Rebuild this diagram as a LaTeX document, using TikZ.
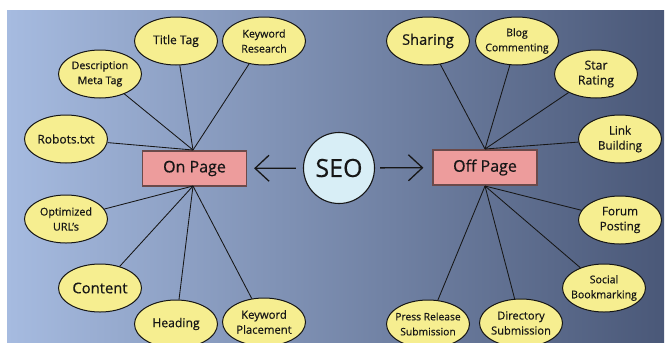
\documentclass[tikz,border=0pt]{standalone}
\usepackage{fontspec}
\setmainfont{Open Sans}[FakeBold=0.5]
\usetikzlibrary{shapes.geometric,arrows.meta}
\definecolor{bgleft}{HTML}{A6BBE0}
\definecolor{bgright}{HTML}{4A5878}
\definecolor{ellfill}{HTML}{F6EE90}
\definecolor{boxfill}{HTML}{ED9C9C}
\definecolor{boxline}{HTML}{6B4A4A}
\definecolor{seofill}{HTML}{D8EEF6}
\definecolor{ink}{HTML}{161616}
\tikzset{
  ell/.style={ellipse, draw=ink, line width=1pt, fill=ellfill, inner sep=-14pt,
    minimum width=83pt, minimum height=48pt, align=center, text=ink},
  pagebox/.style={rectangle, draw=boxline, line width=1.2pt, fill=boxfill, inner sep=0pt,
    minimum width=104pt, minimum height=35pt, text=ink, font=\fontsize{16}{18}\selectfont},
  spoke/.style={draw=ink, line width=0.85pt},
  bigarrow/.style={draw=ink, line width=1.3pt, -{Straight Barb[length=14pt,width=26pt,line width=1.3pt]}},
  fs/.style={font=\fontsize{#1}{15}\selectfont}
}
\begin{document}
\begin{tikzpicture}[x=1pt,y=-1pt]
\useasboundingbox (0,0) rectangle (666,349);
\shade[left color=bgleft, right color=bgright] (7,10) rectangle (664,342);
\begin{scope}
\clip (7,10) rectangle (664,342);
% centre
\node[circle, draw=ink, line width=1.1pt, fill=seofill, minimum size=71pt, inner sep=0pt,
  font=\fontsize{25}{28}\selectfont, text=ink] (seo) at (339,168) {SEO};
\node[pagebox] (onp) at (194.5,168.5) {On Page};
\node[pagebox] (offp) at (485,167.5) {Off Page};
\coordinate (lt) at (193,150);
\coordinate (lb) at (193,186);
\coordinate (rt) at (485,149);
\coordinate (rb) at (485,186);
% left ellipses
\node[ell, fs=12] (title) at (176,41) {Title Tag};
\node[ell, fs=10.7] (kwres) at (264,41) {Keyword\\Research};
\node[ell, fs=10.6] (desc) at (100,74) {Description\\Meta Tag};
\node[ell, fs=12] (robots) at (66,139) {Robots.txt};
\node[ell, fs=10.8] (urls) at (66,219) {Optimized\\URL’s};
\node[ell, fs=14.8] (content) at (100,288) {Content};
\node[ell, fs=12.2] (heading) at (176,324) {Heading};
\node[ell, fs=11.3] (kwpl) at (264,322) {Keyword\\Placement};
% right ellipses
\node[ell, fs=14.6] (sharing) at (428,41) {Sharing};
\node[ell, fs=10.5] (blog) at (517,41) {Blog\\Commenting};
\node[ell, fs=12.3] (star) at (596,74) {Star\\Rating};
\node[ell, fs=11.6] (link) at (620,139) {Link\\Building};
\node[ell, fs=11.8] (forum) at (620,220) {Forum\\Posting};
\node[ell, fs=10.6] (social) at (604,288) {Social\\Bookmarking};
\node[ell, fs=10.3] (press) at (428,324) {Press Release\\Submission};
\node[ell, fs=11.1] (dir) at (521,323) {Directory\\Submission};
% spokes
\foreach \n in {title,kwres,desc,robots} \path[spoke] (lt) -- (\n);
\foreach \n in {urls,content,heading,kwpl} \path[spoke] (lb) -- (\n);
\foreach \n in {sharing,blog,star,link} \path[spoke] (rt) -- (\n);
\foreach \n in {forum,social,press,dir} \path[spoke] (rb) -- (\n);
% arrows
\path[bigarrow, shorten <=7pt, shorten >=7pt] (seo) -- (onp);
\path[bigarrow, shorten <=5pt, shorten >=9pt] (seo) -- (offp);
\end{scope}
\end{tikzpicture}
\end{document}
